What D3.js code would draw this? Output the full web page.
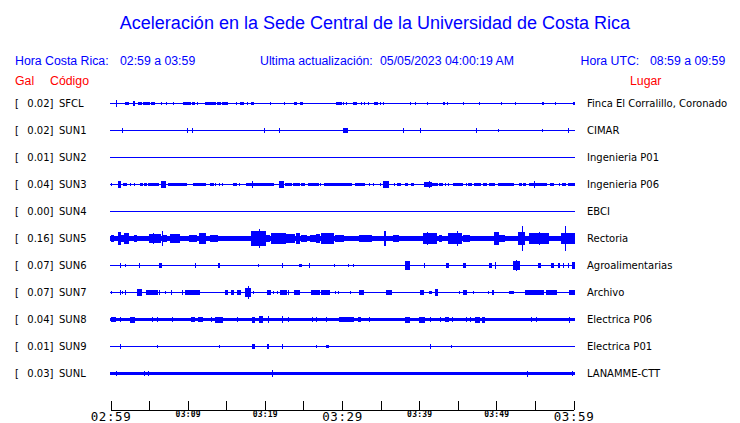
<!DOCTYPE html>
<html><head><meta charset="utf-8">
<script src="https://cdn.jsdelivr.net/npm/d3@7"></script>
<style>
html,body{margin:0;padding:0;background:#fff;}
svg{display:block;}
</style></head>
<body>
<svg id="chart" width="740" height="423"></svg>
<script>
// ---------- data ----------
const codes = ["SFCL","SUN1","SUN2","SUN3","SUN4","SUN5","SUN6","SUN7","SUN8","SUN9","SUNL"];
const galValues = ["0.02","0.02","0.01","0.04","0.00","0.16","0.07","0.07","0.04","0.01","0.03"];
const places = ["Finca El Corralillo, Coronado","CIMAR","Ingenieria P01","Ingenieria P06","EBCI","Rectoria","Agroalimentarias","Archivo","Electrica P06","Electrica P01","LANAMME-CTT"];
// background noise level (fraction of full scale) per station
const baseLevels = [0.037,0.037,0.037,0.037,0.037,0.15,0.037,0.037,0.125,0.037,0.125];
// bursts: [start minute, end minute, amplitude (fraction of full scale)], minutes since 02:59
const burstsSFCL = [[0.65,0.65,0.17],[1.94,2.29,0.07],[2.89,3.07,0.1],[3.54,3.89,0.07],[4.15,5.05,0.07],[5.31,5.70,0.07],[6.48,6.48,0.07],[7.22,7.22,0.05],[8.16,8.16,0.05],[9.37,10.24,0.08],[10.54,10.85,0.08],[11.18,11.18,0.05],[12.31,13.48,0.08],[13.77,14.21,0.08],[14.47,15.12,0.08],[16.29,16.29,0.05],[16.72,17.23,0.08],[17.71,17.71,0.05],[18.23,18.53,0.07],[20.73,20.73,0.05],[22.46,22.46,0.04],[23.75,24.06,0.07],[24.62,24.84,0.07],[29.16,29.89,0.07],[30.19,30.19,0.05],[30.54,30.54,0.05],[31.40,31.75,0.07],[32.43,32.43,0.05],[32.79,32.79,0.05],[33.34,33.34,0.04],[34.21,34.51,0.07],[34.86,34.86,0.05],[35.28,35.28,0.05],[38.75,38.75,0.05],[39.52,39.52,0.07],[40.99,40.99,0.04],[43.06,43.24,0.08],[43.58,43.58,0.07],[45.74,45.74,0.05],[47.73,47.73,0.07],[50.54,50.54,0.05],[52.44,52.44,0.05],[55.94,56.11,0.07],[57.63,57.63,0.05],[59.9,60,0.08]];
const burstsSUN1 = [[1.46,1.46,0.11],[9.89,9.89,0.1],[10.59,10.59,0.1],[19.87,19.87,0.1],[21.81,21.81,0.1],[30.19,30.62,0.11],[37.88,37.88,0.1],[40.08,40.08,0.1],[47.34,47.34,0.1],[50.19,50.19,0.05],[55.89,55.89,0.05],[59.26,59.26,0.1]];
const burstsSUN2 = [];
const burstsSUN3 = [[0,0,0.07],[0.95,1.26,0.17],[1.59,2.03,0.08],[2.5,2.5,0.07],[3.1,3.1,0.07],[3.76,4.11,0.08],[4.28,4.63,0.08],[4.83,6.13,0.08],[6.57,7.0,0.17],[7.43,9.81,0.08],[10.66,12.31,0.08],[12.83,13.26,0.08],[13.6,13.6,0.06],[14.0,14.0,0.06],[14.4,14.4,0.06],[15.85,16.29,0.08],[16.7,16.7,0.06],[17.58,21.03,0.08],[18.4,18.4,0.19],[21.9,22.33,0.22],[22.55,23.42,0.08],[23.62,24.49,0.08],[24.7,25.1,0.07],[25.57,26.86,0.08],[27.2,27.2,0.06],[27.73,29.67,0.08],[29.67,31.19,0.08],[31.62,32.27,0.08],[32.48,32.91,0.08],[33.5,33.5,0.06],[34.0,34.0,0.06],[34.9,34.9,0.06],[35.28,35.93,0.2],[36.7,36.7,0.06],[37.1,37.5,0.07],[38.2,38.4,0.07],[39.0,39.2,0.07],[40.69,41.56,0.1],[41.25,41.25,0.22],[41.7,42.3,0.07],[42.6,43.0,0.07],[43.3,43.3,0.06],[43.8,43.8,0.06],[44.36,45.57,0.08],[46.1,46.1,0.06],[46.3,46.7,0.07],[47.17,47.82,0.08],[48.3,48.7,0.07],[49.1,49.7,0.07],[50.19,51.06,0.08],[51.28,52.13,0.08],[52.9,53.2,0.07],[53.5,53.7,0.07],[54.29,55.37,0.08],[54.9,54.9,0.2],[55.59,56.46,0.08],[56.9,57.3,0.07],[58.1,58.1,0.06],[58.5,58.9,0.07],[59.26,60,0.08]];
const burstsSUN4 = [];
const burstsSUN5 = [[0,0.30,0.24],[0.52,0.74,0.19],[0.95,1.26,0.43],[1.4,1.9,0.22],[1.81,2.24,0.37],[3.11,3.33,0.24],[3.76,3.76,0.19],[4.15,4.15,0.19],[5.05,6.35,0.33],[5.48,5.48,0.41],[6.61,6.61,0.52],[6.78,7.22,0.22],[7.74,8.94,0.33],[9.16,9.81,0.19],[10.15,11.11,0.22],[11.44,12.31,0.37],[12.83,13.77,0.22],[16.72,16.72,0.19],[18.23,19.96,0.52],[19.22,19.22,0.69],[20.18,20.60,0.22],[20.82,22.55,0.37],[22.77,23.84,0.33],[24.06,24.49,0.37],[24.71,25.36,0.22],[25.79,26.44,0.26],[26.66,27.08,0.3],[27.30,28.81,0.37],[29.03,29.67,0.26],[29.67,30.19,0.22],[30.32,30.97,0.19],[32.18,32.69,0.24],[32.91,33.78,0.26],[35.38,35.60,0.56],[36.58,37.23,0.24],[38.53,38.53,0.19],[40.56,42.21,0.37],[41.0,41.0,0.44],[42.63,42.85,0.22],[43.71,45.44,0.41],[44.87,44.87,0.52],[45.65,46.43,0.26],[49.76,50.19,0.44],[50.32,50.93,0.22],[52.87,53.65,0.44],[53.30,53.30,0.87],[54.20,56.67,0.41],[55.59,55.59,0.48],[58.40,60,0.41],[58.92,58.92,0.89]];
const burstsSUN6 = [[1.26,1.26,0.11],[1.85,1.85,0.07],[3.67,3.67,0.11],[6.26,6.48,0.13],[11.0,11.0,0.11],[13.90,14.03,0.1],[19.09,19.09,0.07],[22.20,22.20,0.11],[24.49,24.71,0.07],[25.66,25.66,0.11],[28.94,28.94,0.05],[30.75,30.75,0.05],[31.40,31.40,0.05],[38.19,38.62,0.27],[40.60,40.60,0.11],[43.50,43.71,0.11],[45.74,45.96,0.11],[49.11,49.33,0.11],[49.85,49.85,0.22],[52.13,53.0,0.3],[52.6,52.6,0.37],[55.46,55.68,0.11],[57.11,57.31,0.11],[57.96,58.18,0.11],[58.61,58.61,0.11],[59.26,59.26,0.11],[59.78,60,0.22]];
const burstsSUN7 = [[0.09,0.09,0.05],[1.26,1.26,0.11],[1.5,1.5,0.07],[1.85,1.85,0.11],[3.41,3.98,0.17],[4.63,6.0,0.1],[6.26,6.26,0.11],[7.09,7.09,0.05],[7.81,7.81,0.11],[9.29,9.29,0.11],[9.59,11.53,0.1],[9.8,9.8,0.15],[14.81,15.12,0.15],[15.64,15.85,0.1],[16.42,16.72,0.1],[17.40,18.10,0.3],[17.79,17.79,0.41],[18.44,18.44,0.07],[20.31,20.69,0.1],[21.0,21.0,0.07],[21.6,21.6,0.07],[21.94,22.68,0.1],[22.98,22.98,0.11],[23.75,24.49,0.11],[25.92,27.08,0.11],[27.30,28.38,0.1],[29.03,29.03,0.05],[29.5,29.5,0.05],[31.06,31.06,0.07],[32.14,32.69,0.11],[35.73,36.37,0.11],[40.13,40.47,0.11],[41.25,41.56,0.07],[42.08,42.34,0.22],[45.22,45.22,0.07],[45.74,46.09,0.15],[46.95,46.95,0.05],[48.94,48.94,0.07],[49.46,49.63,0.1],[51.61,52.22,0.07],[53.69,56.02,0.11],[56.46,57.76,0.1],[59.48,60,0.1]];
const burstsSUN8 = [[0,0.52,0.19],[1.26,1.26,0.19],[2.59,3.11,0.2],[5.35,5.35,0.19],[6.05,6.05,0.19],[7.94,7.94,0.19],[10.37,10.79,0.19],[11.40,11.88,0.19],[12.96,12.96,0.19],[13.48,14.47,0.2],[16.37,16.37,0.19],[18.36,18.66,0.2],[19.22,19.61,0.24],[20.44,20.44,0.26],[22.20,22.20,0.27],[22.98,22.98,0.19],[26.09,26.09,0.19],[26.66,26.66,0.19],[27.95,27.95,0.19],[29.67,31.40,0.19],[32.05,32.27,0.19],[33.47,33.47,0.17],[38.14,38.62,0.2],[40.04,40.69,0.2],[41.43,41.43,0.17],[42.72,42.72,0.19],[43.32,43.71,0.19],[44.23,44.23,0.19],[46.09,46.09,0.19],[46.65,46.65,0.17],[47.30,47.73,0.2],[48.17,48.46,0.2],[54.51,54.51,0.17],[55.16,55.16,0.17],[59.39,59.39,0.2]];
const burstsSUN9 = [[1.26,1.26,0.11],[5.99,5.99,0.06],[14.12,14.12,0.05],[18.36,18.66,0.1],[20.25,20.47,0.1],[22.20,22.20,0.11],[26.66,26.66,0.05],[27.95,28.16,0.07],[41.43,41.43,0.11],[44.10,44.10,0.05]];
const burstsSUNL = [[0.74,0.74,0.19],[4.32,4.32,0.17],[4.83,4.83,0.17],[20.90,20.90,0.22],[53.95,53.95,0.2],[59.78,59.78,0.19]];
const allBursts = [burstsSFCL,burstsSUN1,burstsSUN2,burstsSUN3,burstsSUN4,burstsSUN5,burstsSUN6,burstsSUN7,burstsSUN8,burstsSUN9,burstsSUNL];
const tickMinutes = d3.range(0, 61, 5);
const labelMinutes = [0,10,20,30,40,50,60];
const tickLabels = ["02:59","03:09","03:19","03:29","03:39","03:49","03:59"];
const majorLabels = ["02:59","03:29","03:59"];

// ---------- layout ----------
const svg = d3.select("#chart");
const blue = "#0000ff", red = "#ff0000";
const x = d3.scaleLinear().domain([0, 60]).range([111, 574]);
const y = d3.scalePoint().domain(codes).range([103.5, 373.5]);
const amp = d3.scaleLinear().domain([0, 1]).range([0, 13.5]);

svg.append("text").attr("x", 375).attr("y", 29).attr("text-anchor", "middle")
  .attr("font-family", "Liberation Sans, Arial, sans-serif").attr("font-size", 18).attr("fill", blue)
  .text("Aceleración en la Sede Central de la Universidad de Costa Rica");

const hdr = [
  [15, "Hora Costa Rica:"], [120, "02:59 a 03:59"],
  [260, "Ultima actualización:"], [380, "05/05/2023 04:00:19 AM"],
  [580.5, "Hora UTC:"], [650, "08:59 a 09:59"]
];
svg.selectAll("text.hdr").data(hdr).join("text").attr("class", "hdr")
  .attr("x", d => d[0]).attr("y", 65)
  .attr("font-family", "Liberation Sans, Arial, sans-serif").attr("font-size", 12.3).attr("fill", blue)
  .text(d => d[1]);
const sub = [[15, "Gal"], [50, "Código"], [630, "Lugar"]];
svg.selectAll("text.sub").data(sub).join("text").attr("class", "sub")
  .attr("x", d => d[0]).attr("y", 85)
  .attr("font-family", "Liberation Sans, Arial, sans-serif").attr("font-size", 12.3).attr("fill", red)
  .text(d => d[1]);

const rows = svg.selectAll("g.row").data(codes).join("g").attr("class", "row")
  .attr("transform", d => `translate(0,${y(d)})`);
const lf = "DejaVu Sans, sans-serif";
rows.append("text").attr("x", 15).attr("y", 3.3).attr("font-family", lf).attr("font-size", 10).text("[");
rows.append("text").attr("x", 27.3).attr("y", 3.3).attr("font-family", lf).attr("font-size", 10)
  .text((d, i) => galValues[i] + "]");
rows.append("text").attr("x", 59).attr("y", 3.3).attr("font-family", lf).attr("font-size", 10).text(d => d);
rows.append("text").attr("x", 587).attr("y", 3.3).attr("font-family", lf).attr("font-size", 10)
  .text((d, i) => places[i]);

// traces
rows.each(function(code, i) {
  const g = d3.select(this).append("g").attr("shape-rendering", "crispEdges").attr("fill", blue);
  const bh = Math.max(1, 2 * amp(baseLevels[i]));
  g.append("rect").attr("x", x(0) - 1).attr("width", x(60) - x(0) + 2)
    .attr("y", -bh / 2).attr("height", bh);
  const pad = bh > 1.5 ? 0.3 : 0.9;
  const half = d => Math.max(bh / 2, amp(d[2])) + pad;
  g.selectAll("rect.b").data(allBursts[i]).join("rect").attr("class", "b")
    .attr("x", d => x(d[0]) - 0.5)
    .attr("width", d => Math.max(1, x(d[1]) - x(d[0]) + 1))
    .attr("y", d => -half(d))
    .attr("height", d => 2 * half(d));
});

// axis
const ax = svg.append("g").attr("shape-rendering", "crispEdges");
const axisY = 410;
ax.append("line").attr("x1", x(0)).attr("x2", x(60)).attr("y1", axisY).attr("y2", axisY)
  .attr("stroke", "#000").attr("stroke-width", 1);
ax.selectAll("line.t").data(tickMinutes).join("line").attr("class", "t")
  .attr("x1", d => x(d)).attr("x2", d => x(d)).attr("y1", axisY).attr("y2", axisY - 9)
  .attr("stroke", "#000").attr("stroke-width", 1);
svg.selectAll("text.tl").data(labelMinutes).join("text").attr("class", "tl")
  .attr("x", d => x(d)).attr("text-anchor", "middle")
  .attr("font-family", "DejaVu Sans Mono, monospace")
  .each(function(d, i) {
    const lab = tickLabels[i];
    const big = majorLabels.includes(lab);
    d3.select(this)
      .attr("y", big ? 421 : 416.5)
      .attr("font-size", big ? 12.5 : 8)
      .attr("font-weight", big ? "normal" : "bold")
      .attr("letter-spacing", big ? 0.6 : 0.2)
      .text(lab);
  });
</script>
</body></html>
